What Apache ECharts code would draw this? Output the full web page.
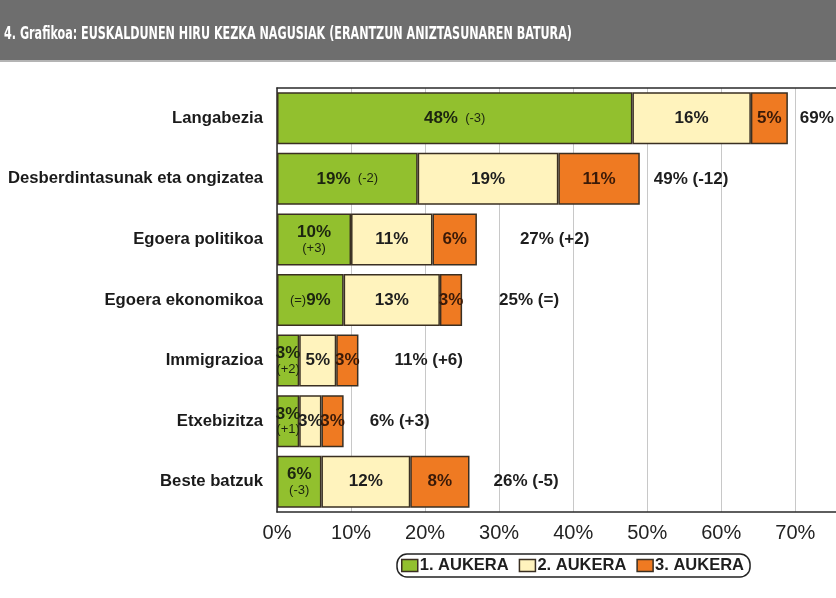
<!DOCTYPE html>
<html><head><meta charset="utf-8">
<script src="https://cdn.jsdelivr.net/npm/echarts@6/dist/echarts.min.js"></script>
<style>html,body{margin:0;padding:0;background:#fff}#c{width:836px;height:598px}</style>
</head><body><div id="c"></div>
<script>
const categories = ["Langabezia","Desberdintasunak eta ongizatea","Egoera politikoa","Egoera ekonomikoa","Immigrazioa","Etxebizitza","Beste batzuk"];
const aukera1 = [48,19,10,9,3,3,6];
const aukera2 = [16,19,11,13,5,3,12];
const aukera3 = [5,11,6,3,3,3,8];
const aukera1Change = ["(-3)","(-2)","(+3)","(=)","(+2)","(+1)","(-3)"];
const totalLabels = ["69%","49% (-12)","27% (+2)","25% (=)","11% (+6)","6% (+3)","26% (-5)"];
const seriesNames = ["1. AUKERA","2. AUKERA","3. AUKERA"];
const xTicks = [0,10,20,30,40,50,60,70];
const titleText = "4. Grafikoa: EUSKALDUNEN HIRU KEZKA NAGUSIAK (ERANTZUN ANIZTASUNAREN BATURA)";

const colors = ["#92c02e","#fff3bd","#ef7a22"];
const labelColors = ["#1c2410","#1e1e1e","#3a1a08"];
const border = "#3a2f22";
const g1Style = ["inline","inline","below","prefix","below","below","below"];

const chart = echarts.init(document.getElementById('c'), null, {renderer:'canvas'});
const FONT = "'Liberation Sans', Arial, sans-serif";

function pct(v){return v+"%";}
const stackTotals = aukera1.map((v,i)=>v+aukera2[i]+aukera3[i]);
const totalDist = [12,14,43,37,36,26,24];

function rich(c){return {
  b:{fontFamily:FONT,fontWeight:'bold',fontSize:17,color:c,lineHeight:17},
  s:{fontFamily:FONT,fontWeight:'normal',fontSize:13,color:c,lineHeight:14}
};}

const option = {
  animation:false,
  backgroundColor:'#fff',
  graphic:[
    {type:'rect',z:-10,shape:{x:0,y:0,width:836,height:60},style:{fill:'#6e6e6e'}},
    {type:'rect',z:-10,shape:{x:0,y:60,width:836,height:2},style:{fill:'#b4b4b4'}},
    {type:'text',x:4,y:34,scaleX:0.69,z:10,
     style:{text:titleText,fill:'#fff',font:"bold 18px 'DejaVu Sans Condensed', 'DejaVu Sans', sans-serif",textVerticalAlign:'middle',verticalAlign:'middle'}}
  ],
  legend:{data:seriesNames,left:397,top:554,orient:'horizontal',
    borderColor:'#222',borderWidth:1.5,borderRadius:10,padding:[3,6,3,4],itemGap:10,
    itemWidth:16,itemHeight:12,icon:'rect',
    itemStyle:{borderColor:border,borderWidth:1.5},
    textStyle:{fontFamily:FONT,fontWeight:'bold',fontSize:16.5,color:'#1e1e1e',padding:[0,0,0,-3]}},
  grid:{left:277,top:88,right:0,height:424,show:false},
  xAxis:[{type:'value',min:0,max:75.5,interval:10,position:'bottom',
    axisLine:{show:true,onZero:false,lineStyle:{color:'#2a2a2a',width:1.5}},axisTick:{show:false},
    splitLine:{show:true,lineStyle:{color:'#c8c8c8',width:1}},
    axisLabel:{fontFamily:FONT,fontSize:20,color:'#222',margin:11,showMaxLabel:false,
      formatter:v=> xTicks.indexOf(v)>=0 ? v+"%" : ""}},
    {type:'value',min:0,max:75.5,interval:10,position:'top',
    axisLine:{show:true,onZero:false,lineStyle:{color:'#2a2a2a',width:1.5}},axisTick:{show:false},
    splitLine:{show:false},axisLabel:{show:false}}],
  yAxis:{type:'category',data:categories,inverse:true,
    axisLine:{show:true,lineStyle:{color:'#2a2a2a',width:1.5}},axisTick:{show:false},
    axisLabel:{fontFamily:FONT,fontWeight:'bold',fontSize:16.7,color:'#1a1a1a',margin:14}},
  series:[
    {name:seriesNames[0],type:'bar',stack:'a',barWidth:52,data:aukera1,
     itemStyle:{color:colors[0],borderColor:border,borderWidth:1.5},
     label:{show:true,position:'inside',rich:rich(labelColors[0]),
       formatter:p=>{const i=p.dataIndex;const st=g1Style[i];
         if(st==='inline') return "{b|"+pct(p.value)+"}{s|  "+aukera1Change[i]+"}";
         if(st==='prefix') return "{s|"+aukera1Change[i]+"}{b|"+pct(p.value)+"}";
         return "{b|"+pct(p.value)+"}\n{s|"+aukera1Change[i]+"}";}}},
    {name:seriesNames[1],type:'bar',stack:'a',barWidth:52,data:aukera2,
     itemStyle:{color:colors[1],borderColor:border,borderWidth:1.5},
     label:{show:true,position:'inside',rich:rich(labelColors[1]),formatter:p=>"{b|"+pct(p.value)+"}"}},
    {name:seriesNames[2],type:'bar',stack:'a',barWidth:52,data:aukera3,
     itemStyle:{color:colors[2],borderColor:border,borderWidth:1.5},
     label:{show:true,position:'inside',rich:rich(labelColors[2]),formatter:p=>"{b|"+pct(p.value)+"}"}},
    {name:'total',type:'bar',stack:'t',barWidth:52,barGap:'-100%',
     data:stackTotals.map((v,i)=>({value:v,label:{distance:totalDist[i]}})),
     itemStyle:{color:'rgba(0,0,0,0)',borderWidth:0},silent:true,z:5,
     label:{show:true,position:'right',fontFamily:FONT,fontWeight:'bold',fontSize:17,color:'#1e1e1e',
       formatter:p=>totalLabels[p.dataIndex]}}
  ]
};
chart.setOption(option);
</script></body></html>
